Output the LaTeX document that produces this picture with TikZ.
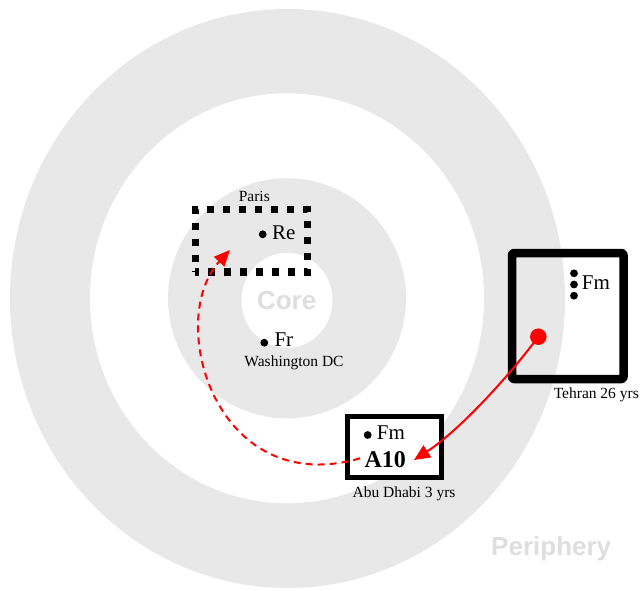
\documentclass[tikz,border=0pt]{standalone}
\usepackage{fontspec}
\setmainfont{Liberation Serif}
\newfontfamily\labsans{Liberation Sans}
\usetikzlibrary{arrows.meta}
\definecolor{ringgray}{RGB}{232,232,232}
\definecolor{zonetxt}{RGB}{222,222,222}
\begin{document}
\begin{tikzpicture}[x=1pt,y=-1pt,
  ring/.style={fill=ringgray,draw=none},
  hole/.style={fill=white,draw=none},
  blackdot/.style={circle,fill=black,draw=none,inner sep=0pt,minimum size=7.8pt},
  citylab/.style={font=\fontsize{15.5}{17}\selectfont,inner sep=0pt,anchor=base},
  actor/.style={font=\fontsize{21}{24}\selectfont,inner sep=0pt,anchor=base west},
  zonelab/.style={font=\labsans\bfseries\fontsize{26}{30}\selectfont,text=zonetxt,inner sep=0pt,anchor=base},
  parisbox/.style={draw=black,line width=7.3pt,dash pattern=on 7.3pt off 8.7pt,dash phase=3.65pt,inner sep=0pt},
  tehranbox/.style={draw=black,line width=8.5pt,rounded corners=2pt,line join=round,inner sep=0pt},
  abubox/.style={draw=black,fill=white,line width=5pt,inner sep=0pt},
  flow/.style={red,line width=2pt,-{Triangle[length=16pt,width=14pt]}},
]
\useasboundingbox (0,0) rectangle (644,590);
% rings
\fill[ring] (287.5,298.5) ellipse [x radius=277.5, y radius=289.5];
\fill[hole] (287,298.3) ellipse [x radius=197, y radius=205];
\fill[ring] (287,298.3) ellipse [x radius=119, y radius=120];
\fill[hole] (287,300.3) ellipse [x radius=45.5, y radius=47.5];
% zone labels
\node[zonelab] (core) at (286.7,309.3) {Core};
\node[zonelab] (periphery) at (551.2,555) {Periphery};
% Paris
\node[parisbox,minimum width=112.5pt,minimum height=62.3pt] (parisBox) at (251.5,240.8) {};
\node[citylab] (paris) at (254.3,201) {Paris};
\node[blackdot] (reDot) at (262.7,234.3) {};
\node[actor] (re) at (272,239.3) {Re};
% Washington
\node[blackdot] (frDot) at (264.3,342.7) {};
\node[actor] (fr) at (274.3,346) {Fr};
\node[citylab] (wdc) at (294,366.5) {Washington DC};
% Tehran
\node[tehranbox,minimum width=111.5pt,minimum height=126pt] (tehranBox) at (567.75,316) {};
\node[blackdot] (tfm1) at (574,273.3) {};
\node[blackdot] (tfm2) at (574,284.5) {};
\node[blackdot] (tfm3) at (574,295.7) {};
\node[actor] (tfm) at (581.7,289.3) {Fm};
\node[citylab] (tehran) at (596.3,398) {Tehran 26 yrs};
% Abu Dhabi
\node[abubox,minimum width=94pt,minimum height=61pt] (abuBox) at (394.5,447) {};
\node[blackdot] (afmDot) at (367.7,435) {};
\node[actor] (afm) at (376.7,439.3) {Fm};
\node[inner sep=0pt,anchor=base west,font=\bfseries\fontsize{24}{28}\selectfont] (a10) at (364.3,467.7) {A10};
\node[citylab] (abu) at (404,497) {Abu Dhabi 3 yrs};
% connectors
\coordinate (a10Tip) at (414,460);
\coordinate (dashStart) at (360,458.3);
\coordinate (parisTip) at (230,250);
\node[circle,fill=red,draw=none,inner sep=0pt,minimum size=16.5pt] (redDot) at (538.3,336.7) {};
\draw[flow] (redDot.center) .. controls (510,375) and (460,430) .. (a10Tip);
\draw[flow,dash pattern=on 7pt off 5pt] (dashStart) .. controls (215,500) and (165,320) .. (parisTip);
\end{tikzpicture}
\end{document}
